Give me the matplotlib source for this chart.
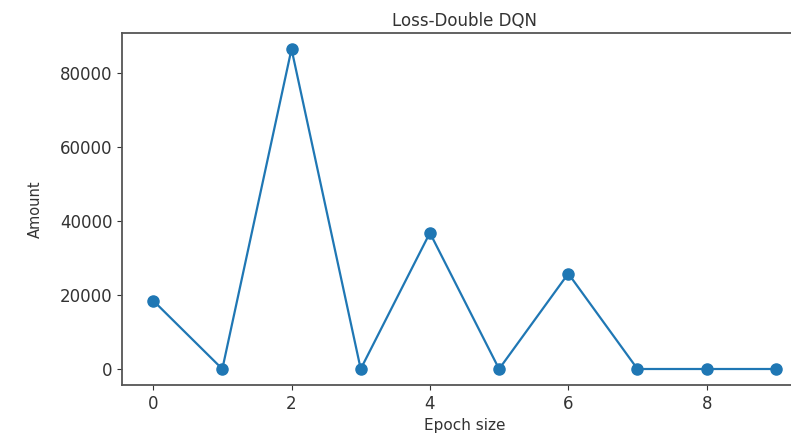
import matplotlib
matplotlib.use("Agg")
import matplotlib.pyplot as plt

# data
epochs = [0, 1, 2, 3, 4, 5, 6, 7, 8, 9]
loss = [18500, 0, 86500, 0, 36800, 0, 25800, 0, 0, 0]

W, H = 791, 434
fig = plt.figure(figsize=(W / 100, H / 100), dpi=100)

# axes runs past the right edge, the reference is cropped there
left, right, top, bottom = 122, 807, 33, 385
ax = fig.add_axes([left / W, 1 - bottom / H, (right - left) / W, (bottom - top) / H])

ax.plot(epochs, loss, marker="o", color="#1f77b4", linewidth=1.6, markersize=8)
ax.set_title("Loss-Double DQN", fontsize=12, color="#333333", pad=5)
ax.set_xlabel("Epoch size", fontsize=11, color="#333333", labelpad=4)
ax.set_ylabel("Amount", fontsize=10.5, color="#333333", labelpad=12)
ax.tick_params(labelsize=12, colors="#333333")
for s in ax.spines.values():
    s.set_color("#555555")
    s.set_linewidth(1.3)

fig.savefig("out.png", dpi=100)
